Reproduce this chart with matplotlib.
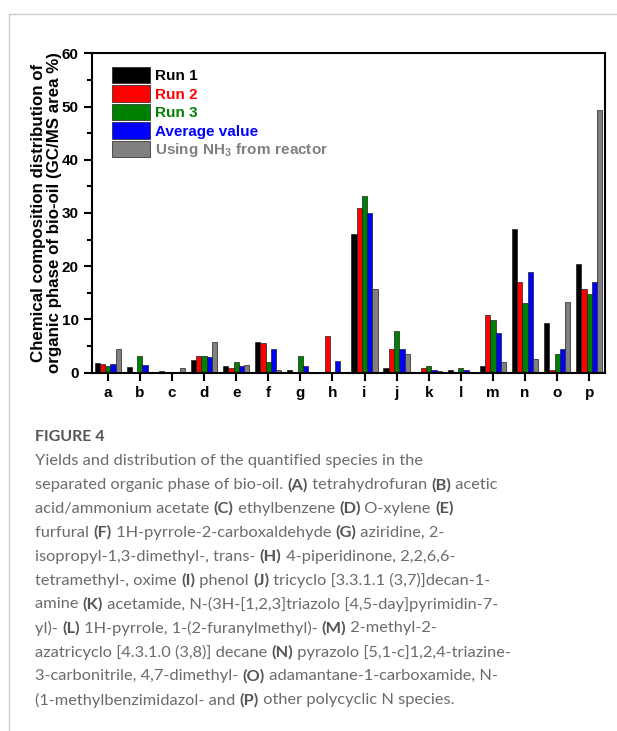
import numpy as np
import matplotlib
matplotlib.use("Agg")
import matplotlib.pyplot as plt
from matplotlib.lines import Line2D

plt.rcParams['font.family'] = ['Liberation Sans', 'DejaVu Sans']
plt.rcParams['mathtext.fontset'] = 'custom'
plt.rcParams['mathtext.rm'] = 'Liberation Sans'
plt.rcParams['mathtext.bf'] = 'Liberation Sans:bold'

#data
labels = list('abcdefghijklmnop')
run1 = [1.8, 1.05, 0.4, 2.45, 1.2, 5.7, 0.5, 0, 26.0, 0.95, 0, 0.6, 1.3, 27.0, 9.4, 20.4]
run2 = [1.7, 0, 0, 3.1, 0.95, 5.6, 0, 6.9, 31.0, 4.4, 0.8, 0, 10.9, 17.0, 0.5, 15.8]
run3 = [1.2, 3.2, 0, 3.1, 1.95, 1.95, 3.2, 0, 33.1, 7.9, 1.2, 0.95, 9.9, 13.0, 3.5, 14.8]
average = [1.55, 1.45, 0, 2.95, 1.35, 4.4, 1.2, 2.2, 30.0, 4.4, 0.6, 0.5, 7.5, 19.0, 4.5, 17.0]
nh3_reactor = [4.4, 0, 0.95, 5.7, 1.45, 0.45, 0, 0, 15.8, 3.6, 0.3, 0, 1.95, 2.5, 13.2, 49.3]

series = [run1, run2, run3, average, nh3_reactor]
names = ['Run 1', 'Run 2', 'Run 3', 'Average value', r'$\mathbf{Using\ NH_3\ from\ reactor}$']
colors = ['#000000', '#ff0000', '#008000', '#0000ff', '#808080']

caption_title = "FIGURE 4"
caption_lines = [
    "Yields and distribution of the quantified species in the",
    "separated organic phase of bio-oil. **(A)** tetrahydrofuran **(B)** acetic",
    "acid/ammonium acetate **(C)** ethylbenzene **(D)** O-xylene **(E)**",
    "furfural **(F)** 1H-pyrrole-2-carboxaldehyde **(G)** aziridine, 2-",
    "isopropyl-1,3-dimethyl-, trans- **(H)** 4-piperidinone, 2,2,6,6-",
    "tetramethyl-, oxime **(I)** phenol **(J)** tricyclo [3.3.1.1 (3,7)]decan-1-",
    "amine **(K)** acetamide, N-(3H-[1,2,3]triazolo [4,5-day]pyrimidin-7-",
    "yl)- **(L)** 1H-pyrrole, 1-(2-furanylmethyl)- **(M)** 2-methyl-2-",
    "azatricyclo [4.3.1.0 (3,8)] decane **(N)** pyrazolo [5,1-c]1,2,4-triazine-",
    "3-carbonitrile, 4,7-dimethyl- **(O)** adamantane-1-carboxamide, N-",
    "(1-methylbenzimidazol- and **(P)** other polycyclic N species.",
]

W, H = 617, 731
fig = plt.figure(figsize=(W / 100, H / 100), dpi=100)
ax = fig.add_axes([91.7 / W, 1 - 372.7 / H, 513.6 / W, 319.4 / H])

#grouped bars
x = np.arange(len(labels))
bw = 0.165
for i, (vals, name, c) in enumerate(zip(series, names, colors)):
    ax.bar(x + (i - 2) * bw, vals, bw, color=c, edgecolor='#202020', linewidth=0.5, label=name)

ax.set_xlim(-0.5, 15.5)
ax.set_ylim(0, 60)
ax.set_xticks(x)
ax.set_xticklabels(labels)
ax.set_yticks(np.arange(0, 61, 10))
ax.set_yticks(np.arange(5, 60, 10), minor=True)
ax.tick_params(axis='both', which='major', direction='out', length=6, width=1.5, labelsize=11)
ax.tick_params(axis='y', which='minor', direction='out', length=3.5, width=1.5)
for lab in ax.get_xticklabels() + ax.get_yticklabels():
    lab.set_fontweight('bold')
for s in ax.spines.values():
    s.set_linewidth(1.5)

ax.set_ylabel("Chemical composition distribution of\norganic phase of bio-oil (GC/MS area %)",
              fontsize=12.2, fontweight='bold', linespacing=1.05)
ax.yaxis.set_label_coords(-0.058, 0.5)

leg = ax.legend(loc='upper left', bbox_to_anchor=(0.039, 0.958), frameon=False,
                prop={'weight': 'bold', 'size': 11}, handlelength=2.5, handleheight=1.3,
                labelspacing=0.12, handletextpad=0.35, borderpad=0, borderaxespad=0)
for t, c in zip(leg.get_texts(), colors):
    t.set_color(c)

#page border lines
fig.add_artist(Line2D([9 / W, 9 / W], [0, 1 - 14 / H], transform=fig.transFigure, color='#cccccc', lw=1))
fig.add_artist(Line2D([9 / W, 1], [1 - 14 / H, 1 - 14 / H], transform=fig.transFigure, color='#cccccc', lw=1))

#caption
cap_font = ['Lato', 'DejaVu Sans']
renderer = fig.canvas.get_renderer()

def text_width(s, weight, size):
    t1 = fig.text(0, 0, "|" + s + "|", fontsize=size, family=cap_font, fontweight=weight)
    t2 = fig.text(0, 0, "||", fontsize=size, family=cap_font, fontweight=weight)
    w = t1.get_window_extent(renderer).width - t2.get_window_extent(renderer).width
    t1.remove()
    t2.remove()
    return w

#size the caption so the first line spans like in the reference
cap_size = 10 * 387 / text_width(caption_lines[0], 'normal', 10)
title_size = 10 * 70 / text_width(caption_title, 'bold', 10)

fig.text(35 / W, 1 - 437 / H, caption_title, fontsize=title_size, fontweight='bold', color='#555555',
         family=cap_font, va='center')

for k, line in enumerate(caption_lines):
    y = 461 + k * 23.9
    xpos = 35
    for j, seg in enumerate(line.split("**")):
        if seg == "":
            continue
        weight = 'bold' if j % 2 == 1 else 'normal'
        col = '#555555' if weight == 'bold' else '#6b6b6b'
        fig.text(xpos / W, 1 - y / H, seg, fontsize=cap_size, family=cap_font,
                 fontweight=weight, color=col, va='center')
        xpos += text_width(seg, weight, cap_size)

fig.savefig('out.png', dpi=100)
